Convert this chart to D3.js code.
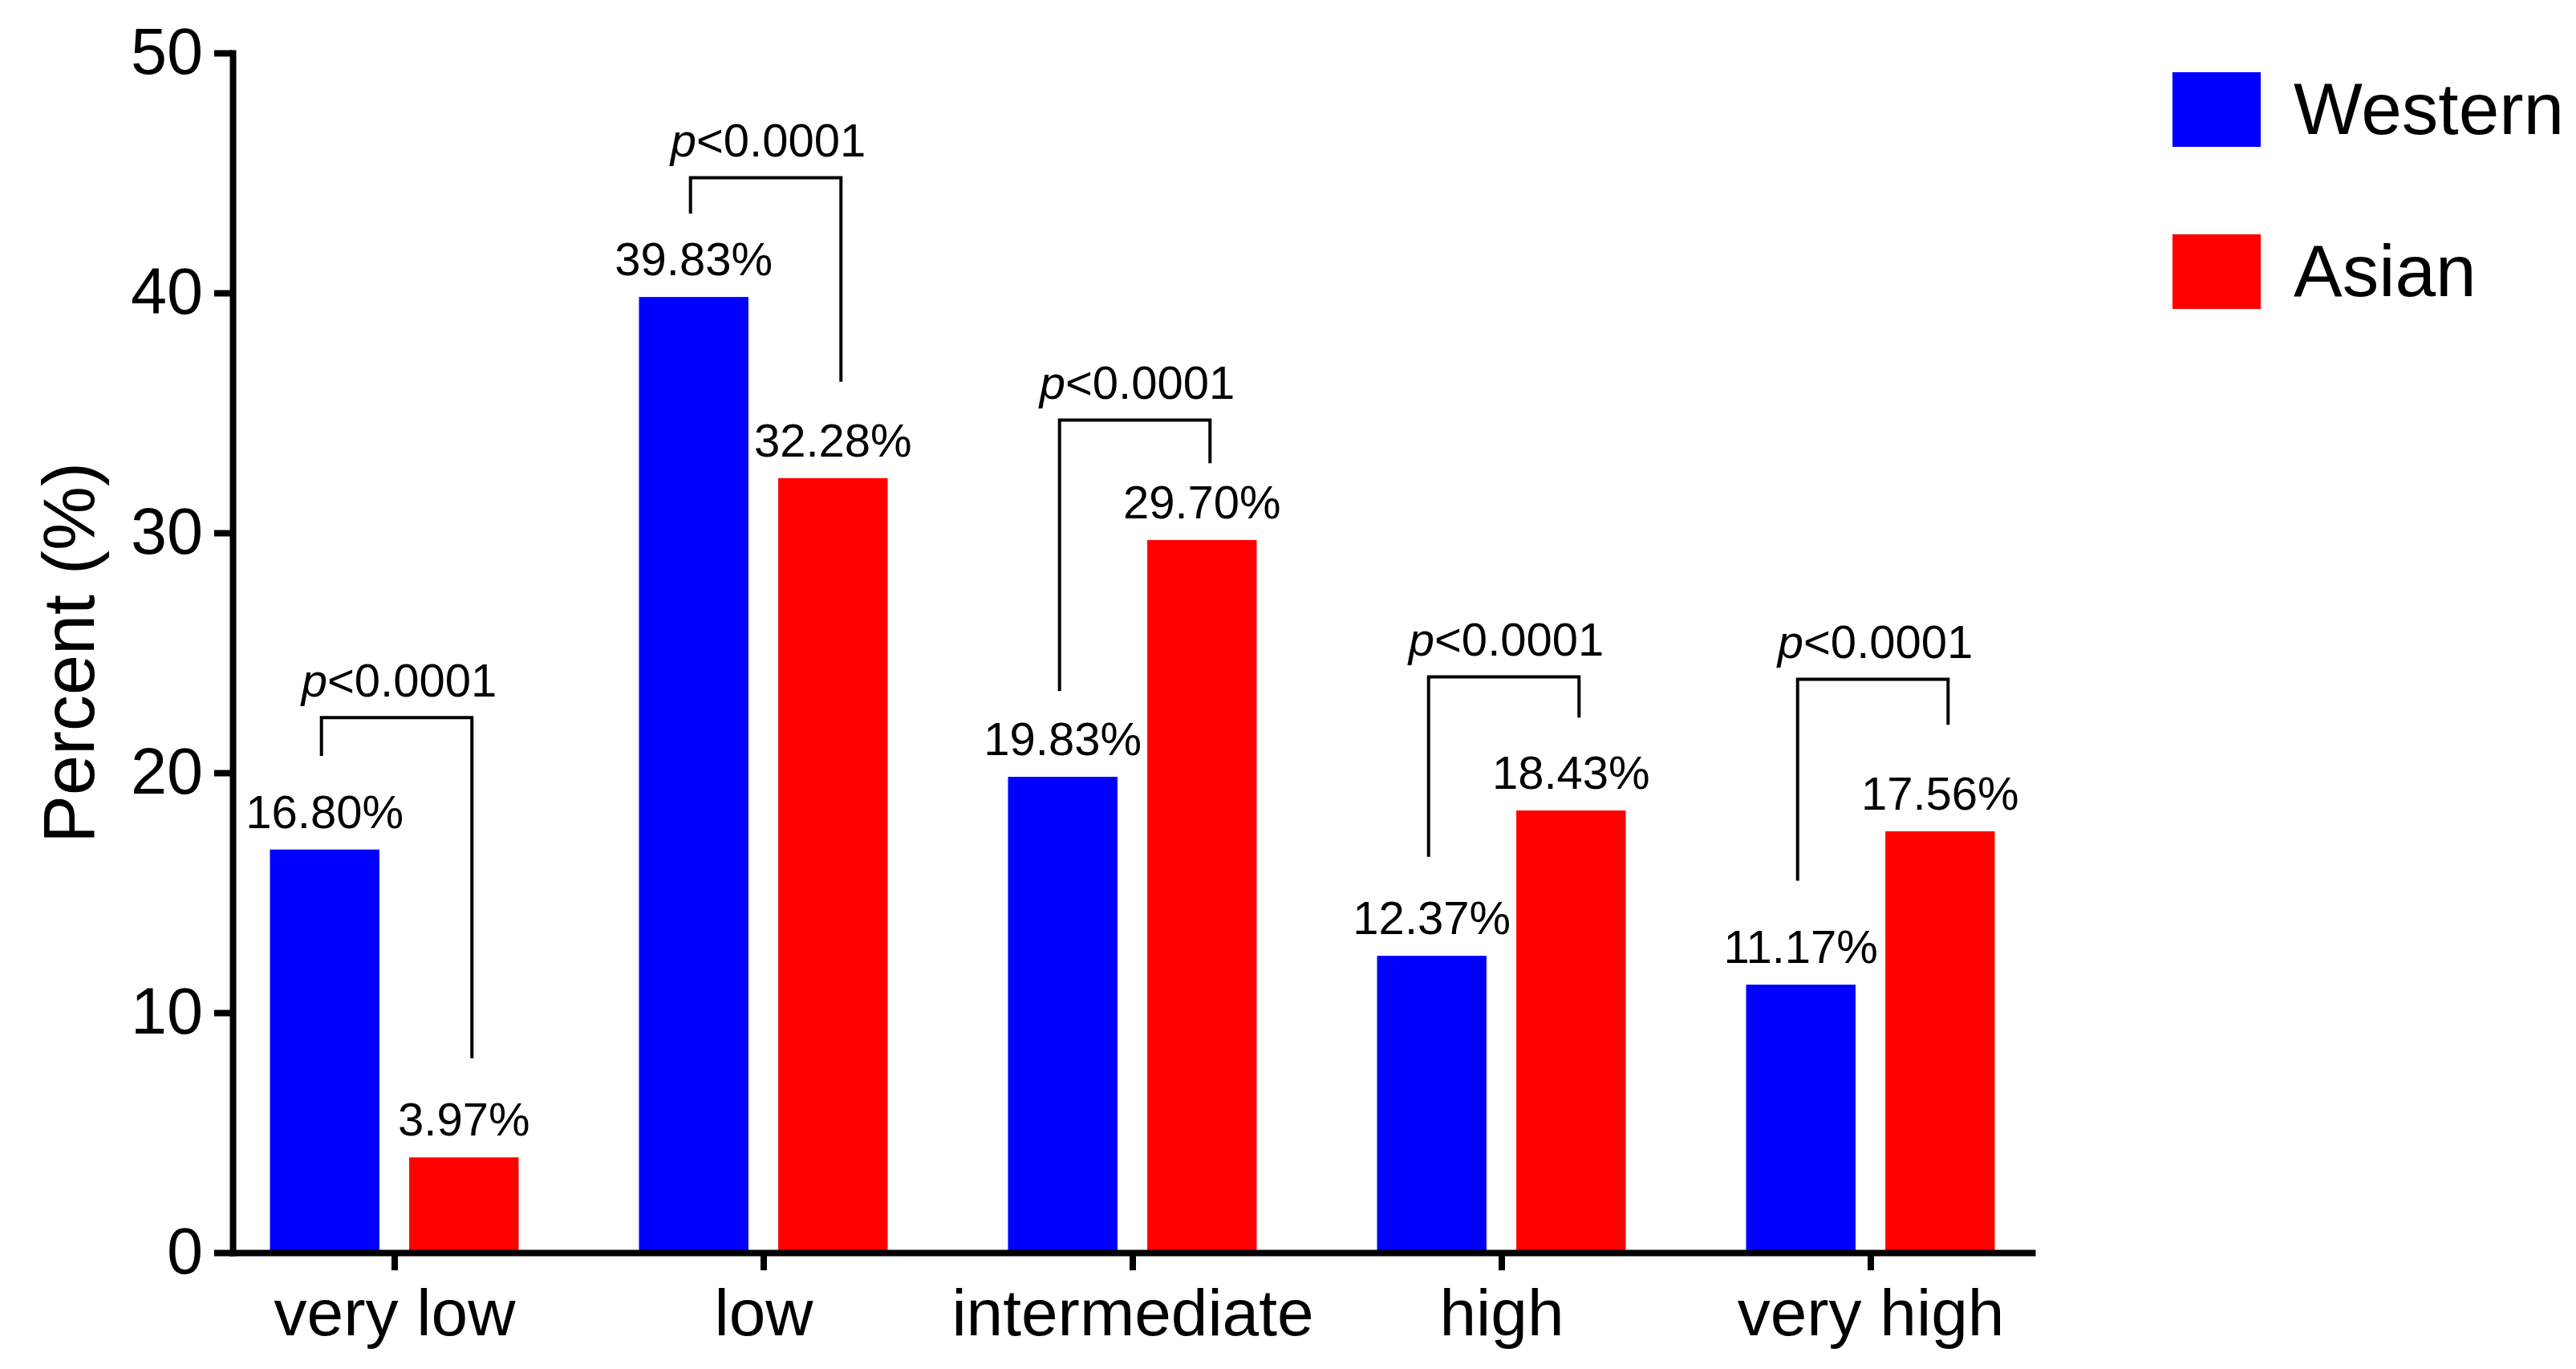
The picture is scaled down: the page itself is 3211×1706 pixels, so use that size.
<!DOCTYPE html>
<html>
<head>
<meta charset="utf-8">
<script src="https://cdn.jsdelivr.net/npm/d3@7"></script>
<style>
  body { margin: 0; background: #fff; }
  svg { display: block; font-family: "Liberation Sans", Arial, sans-serif; }
</style>
</head>
<body>
<svg id="chart"></svg>
<script>
// data
const categories = ["very low", "low", "intermediate", "high", "very high"];
const series = ["Western", "Asian"];
const western = [16.80, 39.83, 19.83, 12.37, 11.17];
const asian = [3.97, 32.28, 29.70, 18.43, 17.56];
const yTicks = [0, 10, 20, 30, 40, 50];

// significance brackets (in % units)
const pText = ["<0.0001", "<0.0001", "<0.0001", "<0.0001", "<0.0001"];
const bracketTop = [22.3, 44.8, 34.7, 24.0, 23.9];
const bracketLeftEnd = [20.7, 43.3, 23.4, 16.5, 15.5];
const bracketRightEnd = [8.1, 36.3, 32.9, 22.3, 22.0];

const colors = ["#0000ff", "#ff0000"];

const width = 3211, height = 1706;
const svg = d3.select("#chart")
    .attr("width", width)
    .attr("height", height);

const plot = { left: 290, right: 2533, top: 66, bottom: 1561 };

const x = d3.scalePoint()
    .domain(categories)
    .range([plot.left, plot.right])
    .padding(0.438);

const xSub = d3.scaleBand()
    .domain(series)
    .range([-155, 155])
    .paddingInner(0.214);

const y = d3.scaleLinear()
    .domain([0, 50])
    .range([plot.bottom, plot.top]);

const rows = categories.map((c, i) => ({ cat: c, vals: [western[i], asian[i]] }));

// bars
const groups = svg.append("g").selectAll("g")
  .data(rows)
  .join("g")
    .attr("transform", d => `translate(${x(d.cat)},0)`);

groups.selectAll("rect")
  .data(d => d.vals.map((v, j) => ({ key: series[j], v: v, j: j })))
  .join("rect")
    .attr("x", d => xSub(d.key))
    .attr("width", xSub.bandwidth())
    .attr("y", d => y(d.v))
    .attr("height", d => y(0) - y(d.v))
    .attr("fill", d => colors[d.j]);

// value labels
groups.selectAll("text.val")
  .data(d => d.vals.map((v, j) => ({ key: series[j], v: v })))
  .join("text")
    .attr("class", "val")
    .attr("x", d => xSub(d.key) + xSub.bandwidth() / 2)
    .attr("y", d => y(d.v) - 27)
    .attr("text-anchor", "middle")
    .style("font-size", "58px")
    .text(d => d.v.toFixed(2) + "%");

// brackets
const bx0 = cat => x(cat) + xSub("Western") + xSub.bandwidth() / 2 - 4;
const bx1 = cat => x(cat) + xSub("Asian") + xSub.bandwidth() / 2 + 10;

svg.append("g").selectAll("path")
  .data(categories)
  .join("path")
    .attr("d", (c, i) => `M${bx0(c)},${y(bracketLeftEnd[i])}V${y(bracketTop[i])}H${bx1(c)}V${y(bracketRightEnd[i])}`)
    .attr("fill", "none")
    .attr("stroke", "#000")
    .attr("stroke-width", 4);

const pLab = svg.append("g").selectAll("text")
  .data(categories)
  .join("text")
    .attr("x", (c) => (bx0(c) + bx1(c)) / 2 + 3)
    .attr("y", (c, i) => y(bracketTop[i]) - 26)
    .attr("text-anchor", "middle")
    .style("font-size", "58px");
pLab.append("tspan").style("font-style", "italic").text("p");
pLab.append("tspan").text((c, i) => pText[i]);

// axes
const yAxis = d3.axisLeft(y)
    .tickValues(yTicks)
    .tickSize(23)
    .tickSizeOuter(0)
    .tickPadding(14);

const xAxis = d3.axisBottom(x)
    .tickSize(22)
    .tickSizeOuter(0)
    .tickPadding(23);

const xg = svg.append("g")
    .attr("transform", `translate(0,${plot.bottom})`)
    .call(xAxis);

const yg = svg.append("g")
    .attr("transform", `translate(${plot.left},0)`)
    .call(yAxis);

[xg, yg].forEach(g => {
  g.attr("font-family", null).attr("font-size", null);
  g.select(".domain").attr("stroke-width", 8).attr("stroke-linecap", "square");
  g.selectAll(".tick line").attr("stroke-width", 8);
  g.selectAll(".tick text").attr("fill", "#000");
});
xg.selectAll(".tick text").style("font-size", "82px");
yg.selectAll(".tick text").style("font-size", "81px");

// y title
svg.append("text")
    .attr("transform", `translate(117,${(plot.top + plot.bottom) / 2}) rotate(-90)`)
    .attr("text-anchor", "middle")
    .style("font-size", "90px")
    .text("Percent (%)");

// legend
const legend = svg.append("g").selectAll("g")
  .data(series)
  .join("g")
    .attr("transform", (d, i) => `translate(2708,${90 + i * 202})`);

legend.append("rect")
    .attr("width", 110)
    .attr("height", 93)
    .attr("fill", (d, i) => colors[i]);

legend.append("text")
    .attr("x", 151)
    .attr("y", 77)
    .style("font-size", "91px")
    .text(d => d);
</script>
</body>
</html>
